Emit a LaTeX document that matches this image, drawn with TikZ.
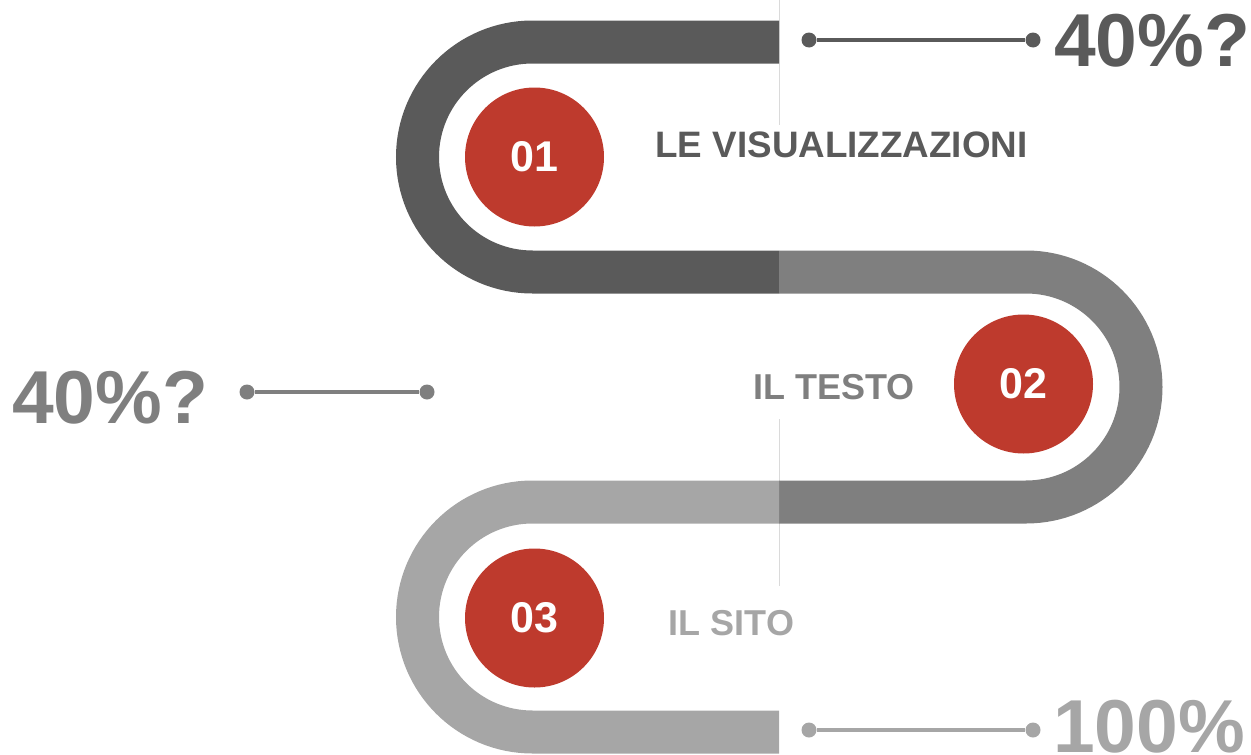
\documentclass[tikz,border=0pt]{standalone}
\usepackage{fontspec}
\setmainfont{Liberation Sans}
\definecolor{cdark}{HTML}{5A5A5A}
\definecolor{cmid}{HTML}{7F7F7F}
\definecolor{clight}{HTML}{A6A6A6}
\definecolor{cred}{HTML}{BE3A2D}
\definecolor{cthin}{HTML}{DADADA}
\begin{document}
\begin{tikzpicture}[x=1pt,y=-1pt,
  band/.style={line width=43pt, line cap=butt},
  thinrule/.style={draw=cthin, line width=1.5pt},
  numcirc/.style={circle, fill=cred, minimum size=139pt, inner sep=0pt, text=white,
    font=\fontsize{43}{46}\selectfont\bfseries},
  lbl/.style={inner sep=0pt, anchor=base, font=\fontsize{36}{40}\selectfont\bfseries},
  big/.style={inner sep=0pt, anchor=base west, font=\fontsize{75}{80}\selectfont\bfseries},
  dot/.style={circle, minimum size=15pt, inner sep=0pt},
  conn/.style={line width=4pt}]
\useasboundingbox (0,0) rectangle (1251,755);
% thin vertical rules
\coordinate (r1a) at (779.5,0);
\coordinate (r1b) at (779.5,125);
\coordinate (r2a) at (779.5,419);
\coordinate (r2b) at (779.5,586);
\draw[thinrule] (r1a) -- (r1b);
\draw[thinrule] (r2a) -- (r2b);
% bands
\draw[band, cdark] (779,42) -- (532.5,42) arc[start angle=90, end angle=270, radius=115pt] -- (779,272);
\draw[band, cmid] (779,272) -- (1026,272) arc[start angle=90, end angle=-90, radius=115pt] -- (779,502);
\draw[band, clight] (779,502) -- (532.5,502) arc[start angle=90, end angle=270, radius=115pt] -- (779,732);
% numbered circles
\node[numcirc] (n1) at (534.5,157) {01};
\node[numcirc] (n2) at (1023.5,384) {02};
\node[numcirc] (n3) at (534.5,618) {03};
% labels
\node[lbl, text=cdark, font=\fontsize{36.8}{40}\selectfont\bfseries] (t1) at (841.5,157) {LE VISUALIZZAZIONI};
\node[lbl, text=cmid] (t2) at (834,399) {IL TESTO};
\node[lbl, text=clight] (t3) at (731.5,635) {IL SITO};
% percentages
\node[big, text=cdark] (p1) at (1054,66.5) {40\%?};
\node[big, text=cmid] (p2) at (12,423) {40\%?};
\node[big, text=clight] (p3) at (1053,752) {100\%};
% dot connectors
\node[dot, fill=cdark] (a1) at (809,40) {};
\node[dot, fill=cdark] (a2) at (1033,40) {};
\draw[conn, cdark] (a1) -- (a2);
\node[dot, fill=cmid] (b1) at (247,392) {};
\node[dot, fill=cmid] (b2) at (427,392) {};
\draw[conn, cmid] (b1) -- (b2);
\node[dot, fill=clight] (c1) at (809,730) {};
\node[dot, fill=clight] (c2) at (1033,730) {};
\draw[conn, clight] (c1) -- (c2);
\end{tikzpicture}
\end{document}
